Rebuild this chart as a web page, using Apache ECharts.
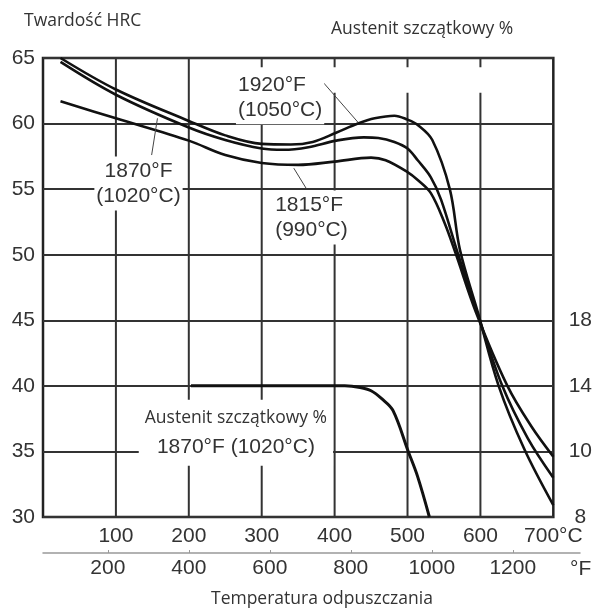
<!DOCTYPE html>
<html lang="pl">
<head>
<meta charset="UTF-8">
<title>Twardość HRC</title>
<style>
  body { margin: 0; background: #fff; }
  #chart { width: 595px; height: 610px; }
</style>
</head>
<body>
<div id="chart"></div>
<script src="https://cdn.jsdelivr.net/npm/echarts@6/dist/echarts.min.js"></script>
<script>
// hardness curves, [temperature °C, HRC]
const hrc1920 = [[24, 65.0], [100, 62.6], [200, 60.2], [250, 59.1], [300, 58.45], [340, 58.4], [370, 58.6], [402, 59.3], [432, 60.0], [455, 60.4], [482, 60.6], [500, 60.3], [514, 59.9], [534, 58.75], [558, 55.0], [572, 50.35], [597, 45.5], [625, 40.0], [660, 35.2], [700, 30.9]];
const hrc1870 = [[24, 64.7], [100, 62.2], [200, 59.7], [250, 58.75], [300, 58.1], [330, 58.0], [364, 58.2], [402, 58.7], [440, 58.95], [460, 58.9], [482, 58.6], [500, 58.1], [514, 57.2], [532, 55.9], [546, 54.2], [569, 50.1], [596, 45.5], [630, 40.0], [665, 36.0], [700, 33.0]];
const hrc1815 = [[24, 61.7], [100, 60.4], [200, 58.7], [250, 57.6], [300, 57.0], [350, 56.85], [400, 57.1], [450, 57.4], [470, 57.2], [500, 56.3], [514, 55.7], [532, 54.7], [551, 52.4], [566, 50.1], [594, 45.6], [637, 40.0], [670, 36.9], [700, 34.6]];
// retained austenite %, 1870°F (1020°C)
const austenite = [[203, 14], [300, 14], [414, 14], [435, 13.9], [450, 13.7], [465, 13.2], [480, 12.5], [501, 10.0], [514, 8.45], [530, 6.0]];

const cGrid = [100, 200, 300, 400, 500, 600];
const fTicks = [200, 400, 600, 800, 1000, 1200];
const austTicks = [6, 10, 14, 18];
const austTickText = { 6: '8', 10: '10', 14: '14', 18: '18' };
// the vertical lines from 300 °C on are broken under the 1920°F note
const gapFrom = 300, gapLow = 62.35, gapHigh = 64.3;

const numFont = 'Liberation Sans';
const txtFont = 'Open Sans';
const txtColor = '#333';

function curve(data, extra) {
    return Object.assign({
        type: 'line',
        data: data,
        smooth: 0.35,
        showSymbol: false,
        silent: true,
        lineStyle: { color: '#111', width: 2.6 },
        z: 3
    }, extra);
}

function note(coord, text, pos) {
    return {
        coord: coord,
        label: {
            show: true,
            position: pos || 'inside',
            distance: 0,
            formatter: text,
            fontFamily: numFont,
            fontSize: 21,
            lineHeight: 25,
            color: txtColor,
            align: pos === 'right' ? 'left' : 'center',
            backgroundColor: '#fff',
            padding: [2, 2]
        }
    };
}

function leader(a, b) {
    return [{ coord: a }, { coord: b }];
}

const markStyle = { symbol: 'rect', symbolSize: 1, itemStyle: { color: 'rgba(0,0,0,0)' }, silent: true };
const lineMark = { symbol: ['none', 'none'], silent: true, label: { show: false }, lineStyle: { color: '#444', width: 1, type: 'solid' } };

// vertical grid lines, one path with breaks between them
const gridPath = [];
cGrid.forEach(v => {
    if (v >= gapFrom) {
        gridPath.push([v, 30], [v, gapLow], [v, null], [v, gapHigh], [v, 65], [v, null]);
    } else {
        gridPath.push([v, 30], [v, 65], [v, null]);
    }
});

const chart = echarts.init(document.getElementById('chart'));
chart.setOption({
    animation: false,
    title: [
        { text: 'Twardość HRC', left: 19, top: 7, textStyle: { fontFamily: txtFont, fontSize: 17.5, fontWeight: 'normal', color: txtColor } },
        { text: 'Austenit szczątkowy %', left: 326, top: 15, textStyle: { fontFamily: txtFont, fontSize: 17.5, fontWeight: 'normal', color: txtColor } },
        { text: 'Temperatura odpuszczania', left: 206, top: 585, textStyle: { fontFamily: txtFont, fontSize: 17.5, fontWeight: 'normal', color: txtColor } }
    ],
    grid: [
        { left: 43, right: 39, top: 58, bottom: 93, show: true, borderColor: '#222', borderWidth: 2.5 },
        { left: 43, right: 15, top: 551, height: 2 }
    ],
    xAxis: [
        {
            type: 'value', gridIndex: 0, min: 0, max: 700, interval: 100,
            axisLine: { show: false }, axisTick: { show: false },
            splitLine: { show: false },
            axisLabel: {
                margin: 9, fontFamily: numFont, fontSize: 21, color: txtColor,
                formatter: v => v === 0 ? '' : (v === 700 ? '700°C' : String(v))
            }
        },
        {
            type: 'value', gridIndex: 1, min: 40, max: 1366, position: 'bottom',
            axisLine: { show: true, lineStyle: { color: '#999', width: 1.5 } },
            axisTick: { show: true, inside: true, length: 3, customValues: fTicks, lineStyle: { color: '#999' } },
            splitLine: { show: false },
            axisLabel: { customValues: fTicks, margin: 5, fontFamily: numFont, fontSize: 21, color: txtColor, formatter: v => String(v) },
            name: '°F', nameLocation: 'end', nameGap: -10,
            nameTextStyle: { fontFamily: numFont, fontSize: 21, color: txtColor, verticalAlign: 'top', padding: [6, 0, 0, 0] }
        }
    ],
    yAxis: [
        {
            type: 'value', gridIndex: 0, min: 30, max: 65, interval: 5,
            axisLine: { show: false }, axisTick: { show: false },
            splitLine: { show: true, lineStyle: { color: '#333', width: 2 } },
            axisLabel: { margin: 8, fontFamily: numFont, fontSize: 21, color: txtColor }
        },
        {
            type: 'value', gridIndex: 0, min: 6, max: 34, position: 'right',
            axisLine: { show: false }, axisTick: { show: false }, splitLine: { show: false },
            axisLabel: {
                customValues: austTicks, margin: 27, align: 'center',
                fontFamily: numFont, fontSize: 21, color: txtColor,
                formatter: v => austTickText[v]
            }
        },
        { type: 'value', gridIndex: 1, show: false }
    ],
    series: [
        {
            type: 'line', data: gridPath, connectNulls: false,
            showSymbol: false, silent: true, z: 1,
            lineStyle: { color: '#333', width: 2 }
        },
        curve(hrc1920, {
            name: '1920°F (1050°C)',
            markPoint: Object.assign({ data: [note([264, 62.0], '1920°F\n(1050°C)', 'right')] }, markStyle),
            markLine: Object.assign({ data: [leader([374, 63.8], [432, 60.1])] }, lineMark)
        }),
        curve(hrc1870, {
            name: '1870°F (1020°C)',
            markPoint: Object.assign({ data: [note([131, 55.43], '1870°F\n(1020°C)')] }, markStyle),
            markLine: Object.assign({ data: [leader([157, 60.4], [149, 57.6])] }, lineMark)
        }),
        curve(hrc1815, {
            name: '1815°F (990°C)',
            markPoint: Object.assign({ data: [note([315, 52.83], '1815°F\n(990°C)', 'right')] }, markStyle),
            markLine: Object.assign({ data: [leader([344, 56.6], [361, 55.06])] }, lineMark)
        }),
        curve(austenite, {
            name: 'Austenit szczątkowy %',
            yAxisIndex: 1,
            lineStyle: { color: '#111', width: 3 },
            markPoint: Object.assign({
                data: [{
                    coord: [264.6, 11.14],
                    label: {
                        show: true, position: 'inside',
                        formatter: '{a|Austenit szczątkowy %}\n{b|1870°F (1020°C)}',
                        backgroundColor: '#fff', padding: [4, 6],
                        rich: {
                            a: { fontFamily: txtFont, fontSize: 17.5, lineHeight: 28, color: txtColor, align: 'center' },
                            b: { fontFamily: numFont, fontSize: 21, lineHeight: 30, color: txtColor, align: 'center' }
                        }
                    }
                }]
            }, markStyle)
        })
    ]
});
</script>
</body>
</html>
